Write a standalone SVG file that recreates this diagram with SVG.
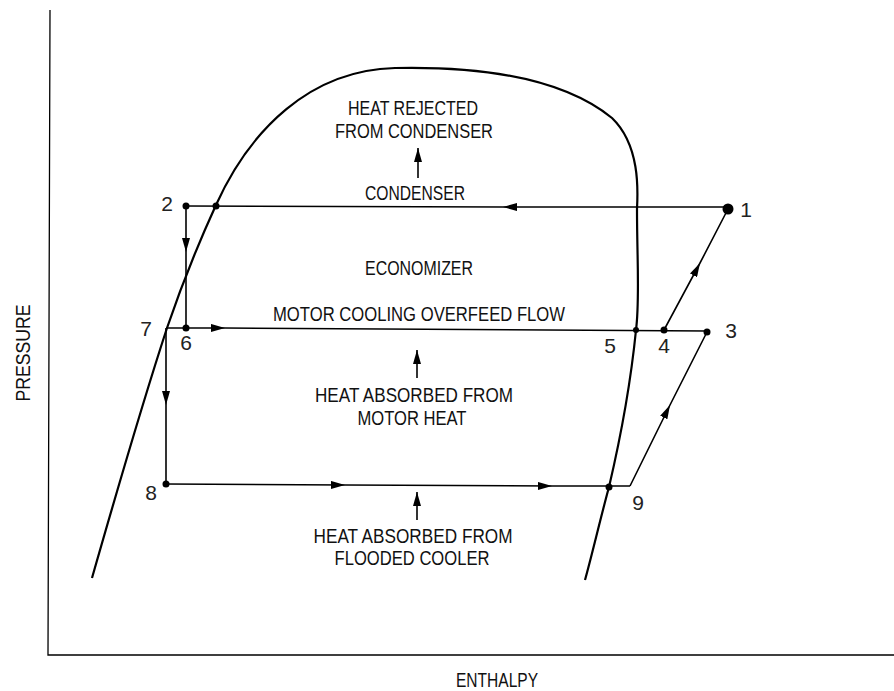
<svg xmlns="http://www.w3.org/2000/svg" width="894" height="691" viewBox="0 0 894 691">
<style>
.ln{fill:none;stroke:#000;stroke-width:1.6}
.ax{fill:none;stroke:#000;stroke-width:1.3}
.cv{fill:none;stroke:#000;stroke-width:2.2}
.t{font-family:"Liberation Sans",Arial,sans-serif;font-size:20px;fill:#111;text-anchor:middle}
.n{font-family:"Liberation Sans",Arial,sans-serif;font-size:21px;fill:#222;text-anchor:middle}
.d{fill:#000}
</style>
<defs>
<marker id="a" markerUnits="userSpaceOnUse" markerWidth="14" markerHeight="8" refX="14" refY="4" orient="auto">
<path d="M0,0 L14,4 L0,8 z" fill="#000"/>
</marker>
</defs>
<rect width="894" height="691" fill="#fff"/>
<g id="axes">
<path class="ax" d="M50,10 L48,655 L894,655"/>
<text class="t" transform="translate(30,353) rotate(-90)" textLength="97" lengthAdjust="spacingAndGlyphs" font-size="19">PRESSURE</text>
<text class="t" x="497" y="687" textLength="82" lengthAdjust="spacingAndGlyphs">ENTHALPY</text>
</g>
<g id="dome">
<path class="cv" d="M92,578 C120,480 150,380 167,328 C185,275 200,240 216,205 C250,130 310,70 395,68 C490,66 565,80 612,118 C640,145 638,190 637,209 C637,260 640,300 636,330 C630,390 620,440 609,487 C600,520 592,555 585,580"/>
</g>
<g id="connectors">
<path class="ln" d="M728,207 L503,207 L186,206" marker-mid="url(#a)"/>
<path class="ln" d="M186,206 L186,252 L186,328" marker-mid="url(#a)"/>
<path class="ln" d="M166,328 L225,328 L707,331" marker-mid="url(#a)"/>
<path class="ln" d="M664,330 L700,263 L728,209" marker-mid="url(#a)"/>
<path class="ln" d="M166,328 L166,405 L166,484" marker-mid="url(#a)"/>
<path class="ln" d="M166,484 L345,485 L552,486 L630,486" marker-mid="url(#a)"/>
<path class="ln" d="M630,486 L670,405 L707,332" marker-mid="url(#a)"/>
<path class="ln" d="M418,178 L418,148" marker-end="url(#a)"/>
<path class="ln" d="M417,378 L417,350" marker-end="url(#a)"/>
<path class="ln" d="M417,520 L417,492" marker-end="url(#a)"/>
</g>
<g id="p1"><circle class="d" cx="728" cy="209" r="5.5"/><text class="n" x="746" y="217">1</text></g>
<g id="p2"><circle class="d" cx="186" cy="206" r="3.5"/><circle class="d" cx="216" cy="206" r="3.5"/><text class="n" x="167" y="211">2</text></g>
<g id="p3"><circle class="d" cx="707" cy="332" r="3.5"/><text class="n" x="731" y="338">3</text></g>
<g id="p4"><circle class="d" cx="664" cy="330" r="3.5"/><text class="n" x="664" y="353">4</text></g>
<g id="p5"><circle class="d" cx="636" cy="330" r="3"/><text class="n" x="610" y="353">5</text></g>
<g id="p6"><circle class="d" cx="186" cy="328" r="3.5"/><text class="n" x="186" y="350">6</text></g>
<g id="p7"><text class="n" x="146" y="336">7</text></g>
<g id="p8"><circle class="d" cx="166" cy="484" r="3.5"/><text class="n" x="151" y="500">8</text></g>
<g id="p9"><circle class="d" cx="609" cy="487" r="3.5"/><text class="n" x="638" y="510">9</text></g>
<g id="labels">
<text class="t" x="413" y="115" textLength="130" lengthAdjust="spacingAndGlyphs">HEAT REJECTED</text>
<text class="t" x="414" y="138" textLength="158" lengthAdjust="spacingAndGlyphs">FROM CONDENSER</text>
<text class="t" x="415" y="200" textLength="100" lengthAdjust="spacingAndGlyphs">CONDENSER</text>
<text class="t" x="419" y="275" textLength="108" lengthAdjust="spacingAndGlyphs">ECONOMIZER</text>
<text class="t" x="419" y="321" textLength="292" lengthAdjust="spacingAndGlyphs">MOTOR COOLING OVERFEED FLOW</text>
<text class="t" x="414" y="402" textLength="198" lengthAdjust="spacingAndGlyphs">HEAT ABSORBED FROM</text>
<text class="t" x="412" y="425" textLength="109" lengthAdjust="spacingAndGlyphs">MOTOR HEAT</text>
<text class="t" x="413" y="543" textLength="199" lengthAdjust="spacingAndGlyphs">HEAT ABSORBED FROM</text>
<text class="t" x="412" y="565" textLength="155" lengthAdjust="spacingAndGlyphs">FLOODED COOLER</text>
</g>
</svg>
